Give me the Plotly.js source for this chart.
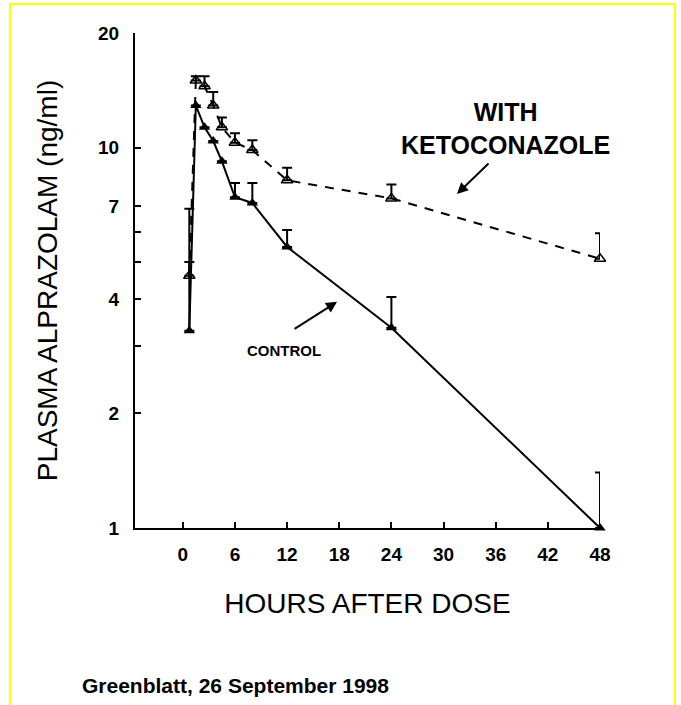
<!DOCTYPE html>
<html>
<head>
<meta charset="utf-8">
<script src="https://cdn.plot.ly/plotly-3.0.1.min.js"></script>
<style>
  html, body { margin: 0; padding: 0; background: #fff; }
  #wrap { position: relative; width: 681px; height: 705px; overflow: hidden; }
  #frame { position: absolute; left: 9px; top: 3px; width: 667px; height: 720px; border: 2px solid #ffff00; box-sizing: border-box; pointer-events: none; }
  #chart { position: absolute; left: 0; top: 0; width: 681px; height: 705px; }
</style>
</head>
<body>
<div id="wrap">
  <div id="chart"></div>
  <div id="frame"></div>
</div>
<script>
// Hours after dose
const controlHours = [0.75, 1.5, 2.5, 3.5, 4.5, 6, 8, 12, 24, 48];
const controlConc  = [3.3, 12.9, 11.3, 10.4, 9.2, 7.4, 7.15, 5.48, 3.36, 1.0];
const controlErrUp = [1.7, 0, 0, 0, 0, 0.67, 0.92, 0.59, 0.69, 0.40];

const ketoHours = [0.75, 1.5, 2.5, 3.5, 4.5, 6, 8, 12, 24, 48];
const ketoConc  = [4.6, 15.0, 14.5, 12.9, 11.3, 10.3, 9.85, 8.2, 7.35, 5.1];
const ketoErrUp = [2.3, 0.4, 0.9, 1.1, 0.7, 0.6, 0.6, 0.65, 0.65, 0.85];

const xTicks = [0, 6, 12, 18, 24, 30, 36, 42, 48];
const yTickVals = [1, 2, 3, 4, 5, 6, 7, 10, 20];
const yTickText = ['1', '2', '', '4', '', '', '7', '10', '20'];

const FONT = 'Liberation Sans, Arial, Helvetica, sans-serif';

const traces = [
  {
    x: ketoHours, y: ketoConc, type: 'scatter', mode: 'lines+markers',
    line: { color: '#000', width: 2, dash: '9px,8px' },
    marker: { symbol: 'triangle-up-open', size: 10, color: '#000', line: { width: 1.5, color: '#000' } },
    error_y: { type: 'data', symmetric: false, array: ketoErrUp, arrayminus: ketoErrUp.map(() => 0), color: '#000', thickness: 2, width: 5 },
    cliponaxis: false, showlegend: false, hoverinfo: 'skip'
  },
  {
    x: controlHours, y: controlConc, type: 'scatter', mode: 'lines+markers',
    line: { color: '#000', width: 2 },
    marker: { symbol: 'triangle-up', size: 10, color: '#000' },
    error_y: { type: 'data', symmetric: false, array: controlErrUp, arrayminus: controlErrUp.map(() => 0), color: '#000', thickness: 2, width: 5 },
    cliponaxis: false, showlegend: false, hoverinfo: 'skip'
  }
];

const layout = {
  width: 681, height: 705,
  margin: { l: 135, r: 81, t: 33, b: 177 },
  paper_bgcolor: 'rgba(0,0,0,0)', plot_bgcolor: 'rgba(0,0,0,0)',
  font: { family: FONT, color: '#000' },
  xaxis: {
    range: [-5.5, 48], tickvals: xTicks, ticktext: xTicks.map(String),
    ticks: 'inside', ticklen: 6, tickwidth: 2, tickcolor: '#000',
    showline: true, linecolor: '#000', linewidth: 2, showgrid: false, zeroline: false,
    tickfont: { family: FONT, size: 19, weight: 'bold' },
    ticklabelstandoff: 8,
    title: { text: 'HOURS AFTER DOSE', font: { family: FONT, size: 28 }, standoff: 30 }
  },
  yaxis: {
    type: 'log', range: [0, Math.log10(20)], tickvals: yTickVals, ticktext: yTickText,
    ticks: 'inside', ticklen: 6, tickwidth: 2, tickcolor: '#000',
    showline: true, linecolor: '#000', linewidth: 2, showgrid: false, zeroline: false,
    tickfont: { family: FONT, size: 19, weight: 'bold' },
    ticklabelstandoff: 10,
    title: { text: 'PLASMA ALPRAZOLAM (ng/ml)', font: { family: FONT, size: 28 }, standoff: 32 }
  },
  annotations: [
    { x: 31.55, y: Math.log10(7.55), xref: 'x', yref: 'y', text: '', showarrow: true,
      ax: 33, ay: -32, arrowhead: 2, arrowsize: 1.1, arrowwidth: 2, arrowcolor: '#000', standoff: 0 },
    { x: (505 - 135) / 465, y: (528 - 128) / 495, xref: 'paper', yref: 'paper',
      text: '<b>WITH<br>KETOCONAZOLE</b>', showarrow: false, align: 'center',
      font: { family: FONT, size: 25 }, xanchor: 'center', yanchor: 'middle' },
    { x: 17.75, y: Math.log10(3.93), xref: 'x', yref: 'y', text: '', showarrow: true,
      ax: -44, ay: 28, arrowhead: 2, arrowsize: 1.1, arrowwidth: 2, arrowcolor: '#000', standoff: 0 },
    { x: (284 - 135) / 465, y: (528 - 350) / 495, xref: 'paper', yref: 'paper',
      text: '<b>CONTROL</b>', showarrow: false, font: { family: FONT, size: 15 },
      xanchor: 'center', yanchor: 'middle' },
    { x: (80 - 135) / 465, y: (528 - 685) / 495, xref: 'paper', yref: 'paper',
      text: '<b>Greenblatt, 26 September 1998</b>', showarrow: false, font: { family: FONT, size: 21 },
      xanchor: 'left', yanchor: 'middle' }
  ]
};

Plotly.newPlot('chart', traces, layout, { staticPlot: true, displayModeBar: false });
</script>
</body>
</html>
